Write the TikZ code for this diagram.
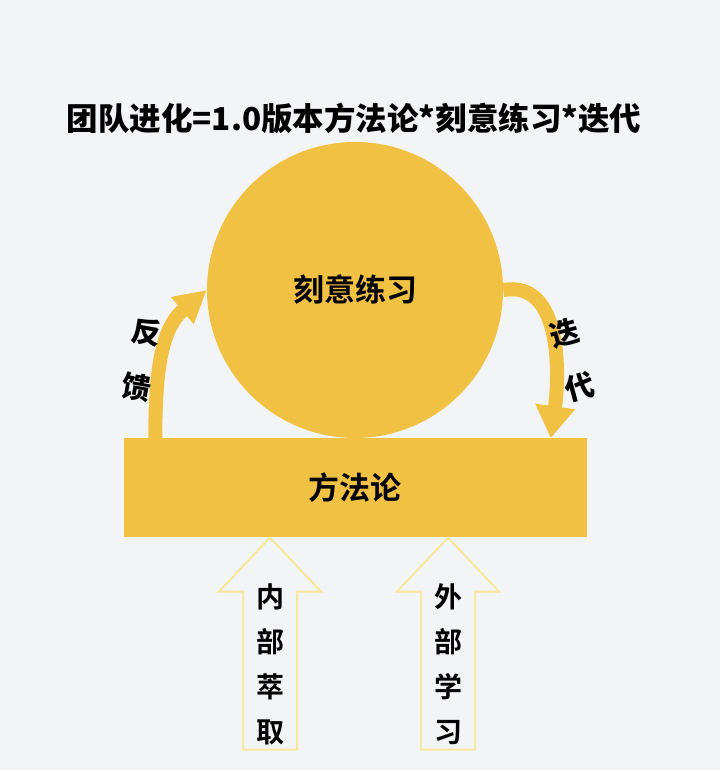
\documentclass[tikz,border=0pt]{standalone}
\usepackage{fontspec}
\setmainfont{Noto Sans CJK SC Bold}
\newfontfamily\heavy{Noto Sans CJK SC Black}
\usetikzlibrary{arrows.meta,positioning}
\definecolor{gold}{HTML}{F0C143}
\definecolor{paper}{HTML}{F3F4F6}
\definecolor{pale}{HTML}{F6E89C}
\begin{document}
\begin{tikzpicture}[x=1pt,y=1pt,
 box/.style={fill=gold,draw=none,font=\fontsize{31}{31}\selectfont},
 loop/.style={draw=gold,line width=14pt,-{Triangle[width=#1,length=32pt]}},
 side/.style={font=\heavy\fontsize{29}{56}\selectfont,align=center},
 up/.style={draw=pale,line width=2pt,line join=miter},
 col/.style={font=\fontsize{28}{45}\selectfont,align=center},
 ]
 \fill[paper] (0,0) rectangle (720,770);
 \useasboundingbox (0,0) rectangle (720,770);
 \node (title) at (354,652) {\heavy\fontsize{31.5}{31.5}\selectfont 团队进化=1.0版本方法论*刻意练习*迭代};
 \node[box,circle,minimum size=296pt,inner sep=0pt] (pract) at (355,480) {刻意练习};
 \node[box,rectangle,minimum width=463pt,minimum height=99pt,below=0pt of pract] (method) {方法论};
 
 %Rueckkopplung
 \coordinate (fbL) at ([xshift=32pt]method.north west);
 \coordinate (itR) at ([xshift=-36pt]method.north east);
 \draw[loop=33pt] (fbL) to[out=90,in=220] (pract.180);
 \draw[loop=38pt] (pract.east) to[out=10,in=82] (itR);
 \node[side,rotate=-10] (fb) at (142,410) {反\\馈};
 \node[side,rotate=15] (it) at (572,410) {迭\\代};
 
 %Eingaenge
 \foreach \n/\x/\t in {inner/270/内\\部\\萃\\取,outer/448/外\\部\\学\\习} {
 	\node[col] (\n) at (\x,106) {\t};
 	\draw[up] (\n.center |- method.south) -- ++(-51,-54) -- ++(24,0) -- ++(0,-158)
 	 -- ++(54,0) -- ++(0,158) -- ++(24,0) -- cycle;
 }
\end{tikzpicture}
\end{document}
